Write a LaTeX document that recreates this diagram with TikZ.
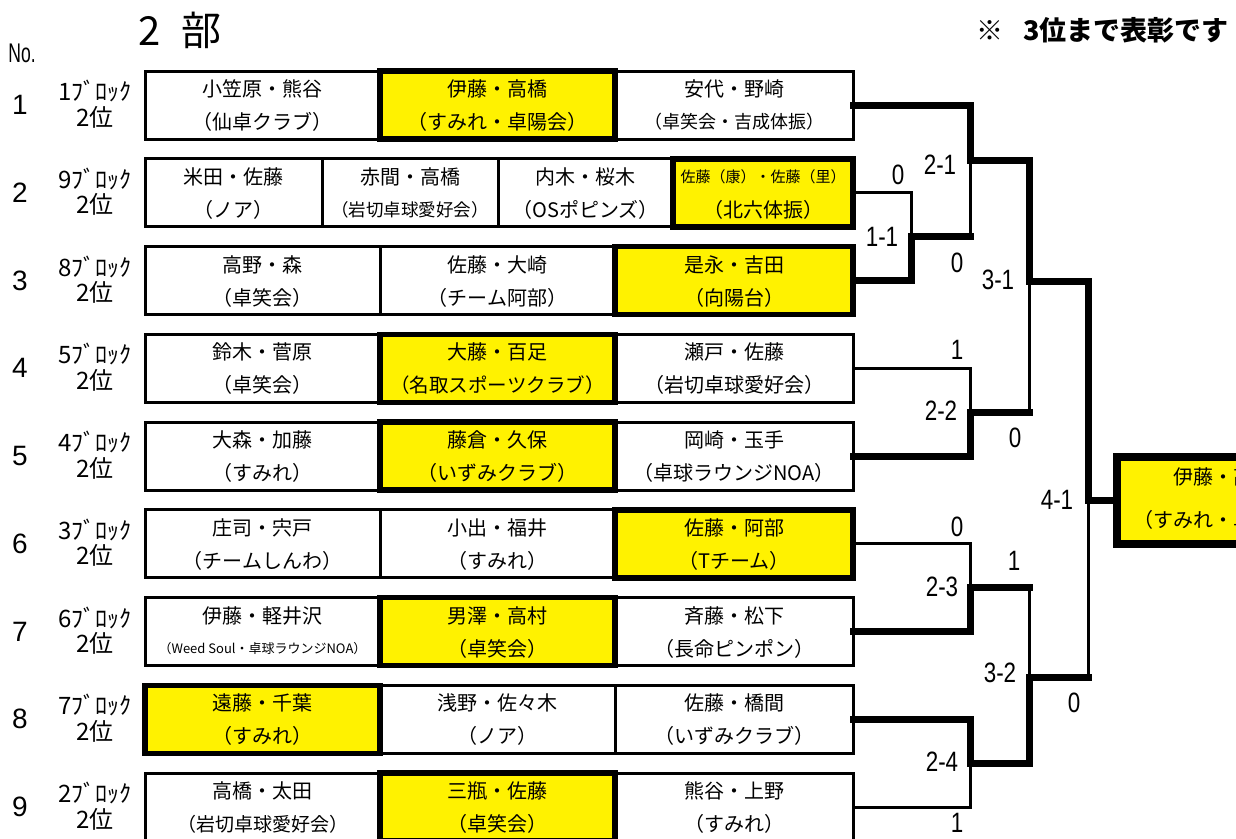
\documentclass[tikz,border=0pt]{standalone}
\usepackage{fontspec}
\setmainfont{Noto Sans CJK JP}
\newfontfamily\latf{Liberation Sans}
\newfontfamily\condf{Liberation Sans}[FakeStretch=0.8]
\newfontfamily\condnf{Liberation Sans}[FakeStretch=0.65]
\usetikzlibrary{calc}
\newcommand\fs[1]{\fontsize{#1}{#1}\selectfont}
\tikzset{
 wbox/.style={draw=black, line width=3pt, fill=white, minimum height=68pt, inner sep=0pt, outer sep=0pt},
 ybox/.style={draw=black, line width=5.5pt, fill=yellow, minimum height=68pt, inner sep=0pt, outer sep=0pt},
 nm/.style={font=\fs{20}, inner sep=0pt, text=black},
 lthin/.style={line width=3pt, line join=miter},
 lthick/.style={line width=7pt, line join=miter, line cap=rect},
 score/.style={font=\condf\fs{28}, inner sep=0pt},
 rownum/.style={font=\latf\fs{28}, inner sep=0pt},
 blk/.style={font=\fs{24}, inner sep=0pt},
}
% #1 style, #2 name, #3 x centre, #4 width, #5 y middle, #6 first line, #7 second line
\newcommand\cell[7]{%
  \node[#1, minimum width=#4pt] (#2) at (#3,#5) {};
  \node[nm] at ($(#2.center)+(0,-16)$) {#6};
  \node[nm] at ($(#2.center)+(0,17)$) {#7};}
% #1 number, #2 block, #3 y middle
\newcommand\rowlab[3]{%
  \node[rownum] (n#1) at (20,#3) {#1};
  \node[blk] (b#1) at (95,#3-14) {#2ﾌﾞﾛｯｸ};
  \node[blk] (p#1) at (95,#3+12) {2位};}
\begin{document}
\begin{tikzpicture}[x=1pt,y=-1pt]
\useasboundingbox (0,0) rectangle (1236,838);
\clip (0,0) rectangle (1236,838);
\fill[white] (0,0) rectangle (1236,838);

% headers
\node[font=\condnf\fs{27}, inner sep=0pt] (no) at (22,53) {No.};
\node[font=\fs{40}, inner sep=0pt, anchor=west] (title) at (138,30) {2 \hspace{12pt}部};
\node[font=\bfseries\fs{27}, inner sep=0pt, anchor=east] (note) at (1229,30) {※ \hspace{14pt}3位まで表彰です};

% row labels
\rowlab{1}{1}{105}
\rowlab{2}{9}{192.75}
\rowlab{3}{8}{280.5}
\rowlab{4}{5}{368.25}
\rowlab{5}{4}{456}
\rowlab{6}{3}{543.75}
\rowlab{7}{6}{631.5}
\rowlab{8}{7}{719.25}
\rowlab{9}{2}{807}

% row 1
\cell{wbox}{r1c1}{262.5}{235}{105}{小笠原・熊谷}{（仙卓クラブ）}
\cell{wbox}{r1c3}{734}{238}{105}{安代・野崎}{\fs{18}（卓笑会・吉成体振）}
\cell{ybox}{r1c2}{497.5}{235}{105}{伊藤・高橋}{（すみれ・卓陽会）}
% row 2
\cell{wbox}{r2c1}{233.5}{177}{192.75}{米田・佐藤}{（ノア）}
\cell{wbox}{r2c2}{410}{176}{192.75}{赤間・高橋}{\fs{17.5}（岩切卓球愛好会）}
\cell{wbox}{r2c3}{585.5}{175}{192.75}{内木・桜木}{（OSポピンズ）}
\cell{ybox}{r2c4}{763}{180}{192.75}{\fs{15}佐藤（康）・佐藤（里）}{（北六体振）}
% row 3
\cell{wbox}{r3c1}{262.5}{235}{280.5}{高野・森}{（卓笑会）}
\cell{wbox}{r3c2}{497.5}{235}{280.5}{佐藤・大崎}{（チーム阿部）}
\cell{ybox}{r3c3}{734}{238}{280.5}{是永・吉田}{（向陽台）}
% row 4
\cell{wbox}{r4c1}{262.5}{235}{368.25}{鈴木・菅原}{（卓笑会）}
\cell{wbox}{r4c3}{734}{238}{368.25}{瀬戸・佐藤}{（岩切卓球愛好会）}
\cell{ybox}{r4c2}{497.5}{235}{368.25}{大藤・百足}{\fs{19.5}（名取スポーツクラブ）}
% row 5
\cell{wbox}{r5c1}{262.5}{235}{456}{大森・加藤}{（すみれ）}
\cell{wbox}{r5c3}{734}{238}{456}{岡崎・玉手}{（卓球ラウンジNOA）}
\cell{ybox}{r5c2}{497.5}{235}{456}{藤倉・久保}{（いずみクラブ）}
% row 6
\cell{wbox}{r6c1}{262.5}{235}{543.75}{庄司・宍戸}{（チームしんわ）}
\cell{wbox}{r6c2}{497.5}{235}{543.75}{小出・福井}{（すみれ）}
\cell{ybox}{r6c3}{734}{238}{543.75}{佐藤・阿部}{（Tチーム）}
% row 7
\cell{wbox}{r7c1}{262.5}{235}{631.5}{伊藤・軽井沢}{\fs{13}（Weed Soul・卓球ラウンジNOA）}
\cell{wbox}{r7c3}{734}{238}{631.5}{斉藤・松下}{（長命ピンポン）}
\cell{ybox}{r7c2}{497.5}{235}{631.5}{男澤・高村}{（卓笑会）}
% row 8
\cell{wbox}{r8c2}{497.5}{235}{719.25}{浅野・佐々木}{（ノア）}
\cell{wbox}{r8c3}{734}{238}{719.25}{佐藤・橋間}{（いずみクラブ）}
\cell{ybox}{r8c1}{262.5}{235}{719.25}{遠藤・千葉}{（すみれ）}
% row 9
\cell{wbox}{r9c1}{262.5}{235}{807}{高橋・太田}{\fs{19}（岩切卓球愛好会）}
\cell{wbox}{r9c3}{734}{238}{807}{熊谷・上野}{（すみれ）}
\cell{ybox}{r9c2}{497.5}{235}{807}{三瓶・佐藤}{（卓笑会）}

% final (cut off at the right edge, as in the reference)
\node[ybox, line width=8pt, minimum width=212pt, minimum height=87pt] (fin) at (1223,500.5) {};
\node[nm] (fin1) at (1223,477) {伊藤・高橋};
\node[nm] (fin2) at (1223,520) {（すみれ・卓陽会）};

% junctions
\coordinate (j11) at (911,236.6);
\coordinate (j21) at (970,160);
\coordinate (j22) at (970,412.1);
\coordinate (j31) at (1029,281);
\coordinate (j23) at (970,587.6);
\coordinate (j24) at (970,763.1);
\coordinate (j32) at (1029,677);
\coordinate (j41) at (1088,500.5);

% thin (losing) lines
\draw[lthin] (r2c4.east) -| (j11);
\draw[lthin] (j21) -- (j11 -| j21);
\draw[lthin] (r4c3.east) -| (j22);
\draw[lthin] (j22 -| j31) -- (j31);
\draw[lthin] (r6c3.east) -| (j23);
\draw[lthin] (j23 -| j32) -- (j32);
\draw[lthin] (r9c3.east) -| (j24);
\draw[lthin] (j32 -| j41) -- (j41);

% thick (winning) lines
\draw[lthick] (r1c3.east) -| (j21) -- (j21 -| j31) -- (j31) -- (j31 -| j41) -- (j41) -- (fin.west);
\draw[lthick] (r3c3.east) -| (j11) -- (j11 -| j21);
\draw[lthick] (r5c3.east) -| (j22) -- (j22 -| j31);
\draw[lthick] (r7c3.east) -| (j23) -- (j23 -| j32);
\draw[lthick] (r8c3.east) -| (j24) -- (j24 -| j32) -- (j32) -- (j32 -| j41);

% scores
\node[score] (s0a) at (898,175) {0};
\node[score] (s21) at (940,165) {2-1};
\node[score] (s11) at (882,237) {1-1};
\node[score] (s0b) at (957,263) {0};
\node[score] (s31) at (998,280) {3-1};
\node[score] (s1a) at (957,350) {1};
\node[score] (s22) at (941,411) {2-2};
\node[score] (s0c) at (1015,438) {0};
\node[score] (s41) at (1057,500) {4-1};
\node[score] (s1b) at (1014,561) {1};
\node[score] (s0d) at (957,527) {0};
\node[score] (s23) at (942,587) {2-3};
\node[score] (s32) at (1000,673) {3-2};
\node[score] (s0e) at (1074,703) {0};
\node[score] (s24) at (942,762) {2-4};
\node[score] (s1c) at (957,823) {1};
\end{tikzpicture}
\end{document}
